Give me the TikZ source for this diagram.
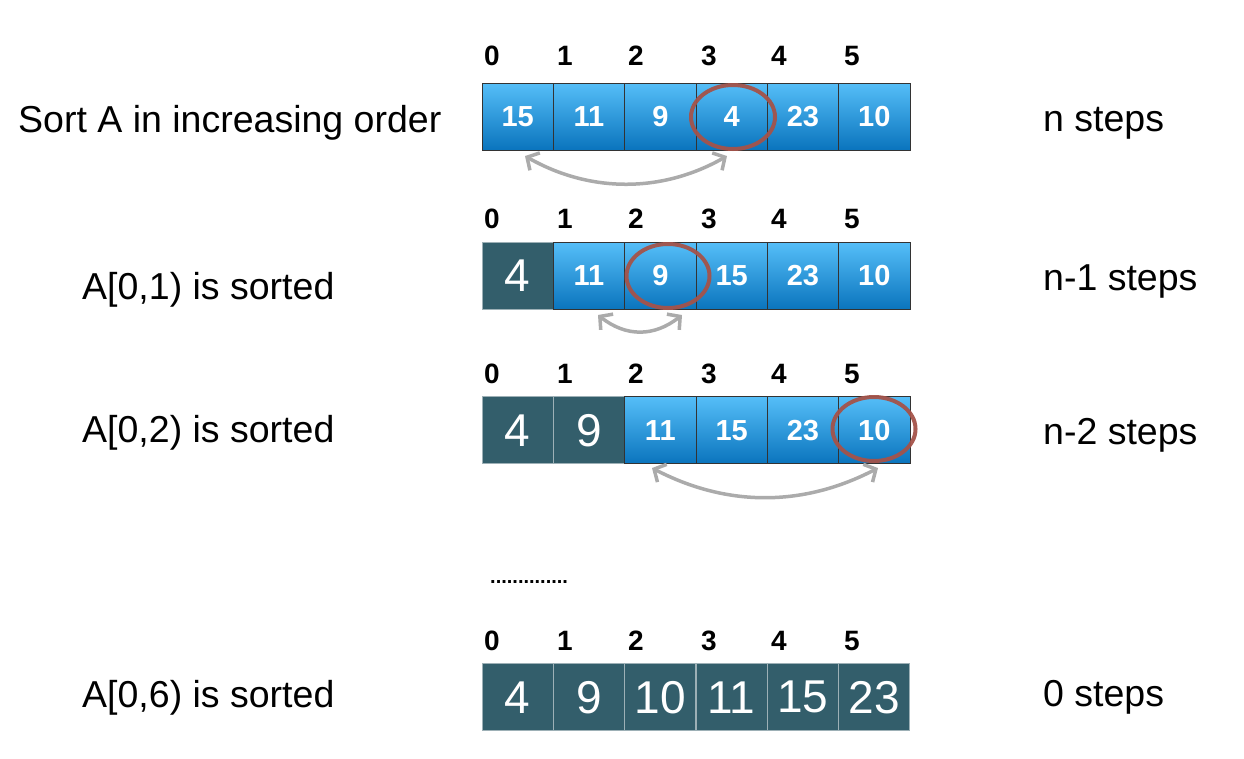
\documentclass[tikz,border=0pt]{standalone}
\usepackage{fontspec}
\setmainfont{Liberation Sans}
\usetikzlibrary{arrows.meta}
\definecolor{darkcell}{HTML}{335E6B}
\definecolor{bluetop}{HTML}{55BEF8}
\definecolor{bluebot}{HTML}{0A74BD}
\definecolor{ringred}{HTML}{A4534A}
\definecolor{arrgrey}{HTML}{ABABAB}
\definecolor{sepgrey}{HTML}{9DB0B6}
\tikzset{
  bluecell/.style={draw=black!80, line width=0.8pt, top color=bluetop, bottom color=bluebot,
    minimum width=71.3pt, minimum height=67pt, inner sep=0pt, outer sep=0pt,
    text=white, font=\bfseries\fontsize{29}{31}\selectfont},
  darkcellst/.style={draw=sepgrey, line width=1pt, fill=darkcell,
    minimum width=71.3pt, minimum height=67pt, inner sep=0pt, outer sep=0pt,
    text=white, font=\fontsize{46}{48}\selectfont},
  idx/.style={anchor=base, inner sep=0pt, font=\bfseries\fontsize{28}{30}\selectfont},
  lbl/.style={anchor=base west, inner sep=0pt, font=\fontsize{37.5}{40}\selectfont},
  ring/.style={draw=ringred, line width=4pt, opacity=0.95},
  swap/.style={draw=arrgrey, line width=3.5pt, {Straight Barb[length=9pt,width=20pt]}-{Straight Barb[length=9pt,width=20pt]}}
}
\begin{document}
\begin{tikzpicture}[x=1pt,y=-1pt]
\useasboundingbox (0,0) rectangle (1244,758);
% index labels
\foreach \r/\yb in {1/65,2/228,3/383,4/650}{
  \foreach \i/\xx in {0/492,1/565,2/636,3/709,4/779,5/852}{
    \node[idx] (i\r\i) at (\xx,\yb) {\i};
  }
}
% row 1
\foreach \i/\v in {0/15,1/11,2/9,3/4,4/23,5/10}{
  \node[bluecell] (c1\i) at ({517.65+71.33*\i},116.5) {\v};
}
% row 2
\node[darkcellst] (c20) at (517.65,276) {4};
\foreach \i/\v in {1/11,2/9,3/15,4/23,5/10}{
  \node[bluecell] (c2\i) at ({517.65+71.33*\i},276) {\v};
}
% row 3
\node[darkcellst] (c30) at (517.65,430.3) {4};
\node[darkcellst] (c31) at (588.98,430.3) {9};
\foreach \i/\v in {2/11,3/15,4/23,5/10}{
  \node[bluecell] (c3\i) at ({517.65+71.33*\i},430.3) {\v};
}
% row 4
\foreach \i/\v in {0/4,1/9,2/10,3/11,4/15,5/23}{
  \node[darkcellst] (c4\i) at ({517.65+71.33*\i},697.3) {\v};
}
% rings
\draw[ring] (733,117) ellipse [x radius=42, y radius=32];
\draw[ring] (668,276) ellipse [x radius=41.5, y radius=32];
\draw[ring] (874,429) ellipse [x radius=41.5, y radius=32];
% swap arrows
\coordinate (s1a) at (525,156);
\coordinate (s1b) at (727,156);
\coordinate (s2a) at (598,315);
\coordinate (s2b) at (682,315);
\coordinate (s3a) at (652,468);
\coordinate (s3b) at (878,468);
\draw[swap] (s1a) .. controls (590,193) and (662,193) .. (s1b);
\draw[swap] (s2a) .. controls (626,337) and (654,337) .. (s2b);
\draw[swap] (s3a) .. controls (727,507) and (803,507) .. (s3b);
% left labels
\node[lbl] (l1) at (18,132.7) {Sort A in increasing order};
\node[lbl] (l2) at (82,299.3) {A[0,1) is sorted};
\node[lbl] (l3) at (82,442) {A[0,2) is sorted};
\node[lbl] (l4) at (82,707.3) {A[0,6) is sorted};
% right labels
\node[lbl] (r1) at (1043,131.7) {n steps};
\node[lbl] (r2) at (1043,290) {n-1 steps};
\node[lbl] (r3) at (1043,444) {n-2 steps};
\node[lbl] (r4) at (1043,706.7) {0 steps};
% dots
\node[anchor=base west, inner sep=0pt, font=\bfseries\fontsize{20}{22}\selectfont] (dots) at (490,583) {..............};
\end{tikzpicture}
\end{document}
